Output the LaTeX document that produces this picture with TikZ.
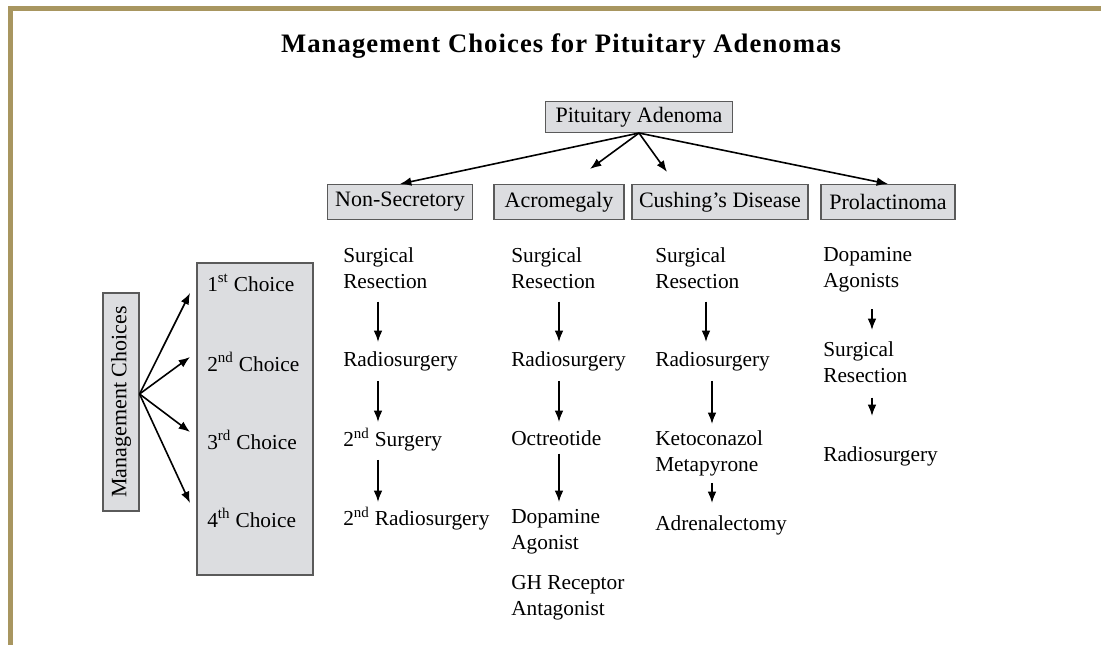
\documentclass[tikz,border=0pt]{standalone}
\usepackage{fontspec}
\setmainfont{Liberation Serif}
\newfontfamily\titlefont[LetterSpace=4]{Liberation Serif}
\usetikzlibrary{arrows.meta}
\definecolor{gold}{HTML}{A89660}
\definecolor{boxfill}{HTML}{DCDDE0}
\definecolor{boxline}{HTML}{5A5A5A}
\begin{document}
\begin{tikzpicture}[x=0.75pt,y=-0.75pt,
  hdr/.style={draw=boxline, fill=boxfill, line width=0.8pt, inner sep=0, font=\fontsize{16.5}{19}\selectfont},
  txt/.style={inner sep=0, anchor=north west, align=left, font=\fontsize{16}{19.5}\selectfont},
  chl/.style={inner sep=0, anchor=west, font=\fontsize{16}{19.5}\selectfont},
  arr/.style={-{Latex[length=8.5pt,width=6.5pt]}, line width=1.2pt, black},
]
\useasboundingbox (0,0) rectangle (1101,645);
\fill[white] (0,0) rectangle (1101,645);
\fill[gold] (8,6) rectangle (1101,11);
\fill[gold] (8,6) rectangle (13,645);

\node[font=\titlefont\bfseries\fontsize{20}{24}\selectfont] (title) at (561,46) {Management Choices for Pituitary Adenomas};

% header boxes
\node[hdr, minimum width=187*0.75pt, minimum height=31*0.75pt] (pa) at (639,117) {Pituitary Adenoma};
\node[hdr, minimum width=145*0.75pt, minimum height=35*0.75pt] (ns) at (400,202) {Non-Secretory};
\node[hdr, minimum width=130*0.75pt, minimum height=35*0.75pt] (ac) at (559,202) {Acromegaly};
\node[hdr, minimum width=176*0.75pt, minimum height=35*0.75pt] (cu) at (720,202) {Cushing’s Disease};
\node[hdr, minimum width=134*0.75pt, minimum height=35*0.75pt] (pr) at (888,202) {Prolactinoma};

\coordinate (acT) at (590,169);
\coordinate (cuT) at (667,172);
\draw[arr] (pa.south) -- (ns.north);
\draw[arr] (pa.south) -- (acT);
\draw[arr] (pa.south) -- (cuT);
\draw[arr] (pa.south) -- (pr.north);

% left side
\node[hdr, rotate=90, minimum width=218*0.75pt, minimum height=36*0.75pt] (mc) at (121,402) {Management Choices};
\node[hdr, minimum width=116*0.75pt, minimum height=312*0.75pt] (cb) at (255,419) {};
\node[chl] (ch1) at (207,283) {1\textsuperscript{st} Choice};
\node[chl] (ch2) at (207,362) {2\textsuperscript{nd} Choice};
\node[chl] (ch3) at (207,440) {3\textsuperscript{rd} Choice};
\node[chl] (ch4) at (207,518) {4\textsuperscript{th} Choice};
\coordinate (t1) at (190,293);
\coordinate (t2) at (190,357);
\coordinate (t3) at (190,432);
\coordinate (t4) at (190,503);
\draw[arr] ([yshift=6pt]mc.south) -- (t1);
\draw[arr] ([yshift=6pt]mc.south) -- (t2);
\draw[arr] ([yshift=6pt]mc.south) -- (t3);
\draw[arr] ([yshift=6pt]mc.south) -- (t4);

% column 1
\node[txt] (a1) at (343,247) {Surgical\\Resection};
\node[txt] (a2) at (343,351) {Radiosurgery};
\node[txt] (a3) at (343,428) {2\textsuperscript{nd} Surgery};
\node[txt] (a4) at (343,507) {2\textsuperscript{nd} Radiosurgery};
\draw[arr] ([shift={(35,13)}]a1.south west) -- ([shift={(35,-9)}]a2.north west);
\draw[arr] ([shift={(35,10)}]a2.south west) -- ([shift={(35,-6)}]a3.north west);
\draw[arr] ([shift={(35,8)}]a3.south west) -- ([shift={(35,-5)}]a4.north west);

% column 2
\node[txt] (b1) at (511,247) {Surgical\\Resection};
\node[txt] (b2) at (511,351) {Radiosurgery};
\node[txt] (b3) at (511,430) {Octreotide};
\node[txt] (b4) at (511,509) {Dopamine\\Agonist};
\node[txt] (b5) at (511,575) {GH Receptor\\Antagonist};
\draw[arr] ([shift={(48,13)}]b1.south west) -- ([shift={(48,-9)}]b2.north west);
\draw[arr] ([shift={(48,10)}]b2.south west) -- ([shift={(48,-8)}]b3.north west);
\draw[arr] ([shift={(48,8)}]b3.south west) -- ([shift={(48,-7)}]b4.north west);

% column 3
\node[txt] (c1) at (655,247) {Surgical\\Resection};
\node[txt] (c2) at (655,351) {Radiosurgery};
\node[txt] (c3) at (655,430) {Ketoconazol\\Metapyrone};
\node[txt] (c4) at (655,515) {Adrenalectomy};
\draw[arr] ([shift={(51,13)}]c1.south west) -- ([shift={(51,-9)}]c2.north west);
\draw[arr] ([shift={(57,10)}]c2.south west) -- ([shift={(57,-6)}]c3.north west);
\draw[arr] ([shift={(57,7)}]c3.south west) -- ([shift={(57,-12)}]c4.north west);

% column 4
\node[txt] (d1) at (823,247) {Dopamine\\Agonists};
\node[txt] (d2) at (823,341) {Surgical\\Resection};
\node[txt] (d3) at (823,446) {Radiosurgery};
\draw[arr] ([shift={(49,17)}]d1.south west) -- ([shift={(49,-11)}]d2.north west);
\draw[arr] ([shift={(49,15)}]d2.south west) -- ([shift={(49,-30)}]d3.north west);
\end{tikzpicture}
\end{document}
